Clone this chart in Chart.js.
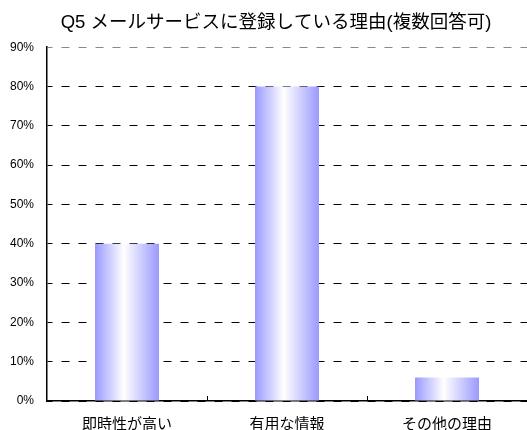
<!DOCTYPE html>
<html lang="ja">
<head>
<meta charset="utf-8">
<title>Q5</title>
<script src="https://cdn.jsdelivr.net/npm/chart.js@4/dist/chart.umd.min.js"></script>
<style>
    html, body { margin: 0; padding: 0; background: #fff; }
    canvas { display: block; }
</style>
</head>
<body>
<canvas id="reasonChart" width="527" height="430"></canvas>
<script>
// ---- Data ----
const titleText = 'Q5 メールサービスに登録している理由(複数回答可)';
const categories = ['即時性が高い', '有用な情報', 'その他の理由'];
const percentValues = [40, 80, 6];
const yTicks = [0, 10, 20, 30, 40, 50, 60, 70, 80, 90];

const fontFamily = '"Liberation Sans", "Noto Sans CJK JP", sans-serif';

// ---- Bar gradient (white in the middle, blue at the edges) ----
function barGradient(context) {
    const chart = context.chart;
    const xScale = chart.scales.x;
    if (!chart.chartArea || !xScale) return '#a0a0ff';
    const center = xScale.getPixelForValue(context.dataIndex);
    const half = (xScale.width / categories.length) * 0.4 / 2;
    const g = chart.ctx.createLinearGradient(center - half, 0, center + half, 0);
    g.addColorStop(0, '#9a9aff');
    g.addColorStop(0.45, '#ffffff');
    g.addColorStop(1, '#9a9aff');
    return g;
}

// ---- Small category separators pointing up from the x axis ----
const categoryTicks = {
    id: 'categoryTicks',
    afterLayout(chart) {
        // title in the original sits a bit right of the canvas centre
        chart.titleBlock.left = 25;
    },
    afterDatasetsDraw(chart) {
        const xScale = chart.scales.x;
        const bottom = chart.chartArea.bottom;
        const ctx = chart.ctx;
        ctx.save();
        ctx.strokeStyle = '#000';
        ctx.lineWidth = 1;
        for (let i = 1; i < categories.length; i++) {
            const x = Math.round((xScale.getPixelForValue(i - 1) + xScale.getPixelForValue(i)) / 2) + 0.5;
            ctx.beginPath();
            ctx.moveTo(x, bottom);
            ctx.lineTo(x, bottom - 5);
            ctx.stroke();
        }
        ctx.restore();
    }
};

// ---- Chart ----
new Chart(document.getElementById('reasonChart'), {
    type: 'bar',
    data: {
        labels: categories,
        datasets: [{
            data: percentValues,
            backgroundColor: barGradient,
            borderWidth: 0,
            barPercentage: 0.4,
            categoryPercentage: 1
        }]
    },
    options: {
        responsive: false,
        animation: false,
        devicePixelRatio: 1,
        layout: { padding: { left: 10, right: 0, top: 0, bottom: 0 } },
        plugins: {
            legend: { display: false },
            tooltip: { enabled: false },
            title: {
                display: true,
                text: titleText,
                color: '#000',
                font: { family: fontFamily, size: 18.5, weight: 'normal' },
                padding: { top: 12, bottom: 13 }
            }
        },
        scales: {
            x: {
                grid: { display: false },
                border: { display: true, color: '#000', width: 1.5 },
                ticks: {
                    color: '#000',
                    padding: 7,
                    font: { family: fontFamily, size: 15 }
                },
                afterFit(scale) { scale.height = 29; }
            },
            y: {
                min: 0,
                max: 90,
                afterBuildTicks(scale) {
                    scale.ticks = yTicks.map(v => ({ value: v }));
                },
                afterFit(scale) { scale.width = 37; },
                grid: {
                    drawTicks: false,
                    color: ctx => (ctx.tick && ctx.tick.value === 90 ? '#888' : '#000'),
                    lineWidth: 1
                },
                border: { display: true, color: '#000', width: 1.5, dash: [8, 9], dashOffset: 3 },
                ticks: {
                    color: '#000',
                    padding: 13,
                    font: { family: fontFamily, size: 12 },
                    callback: v => v + '%'
                }
            }
        }
    },
    plugins: [categoryTicks]
});
</script>
</body>
</html>
